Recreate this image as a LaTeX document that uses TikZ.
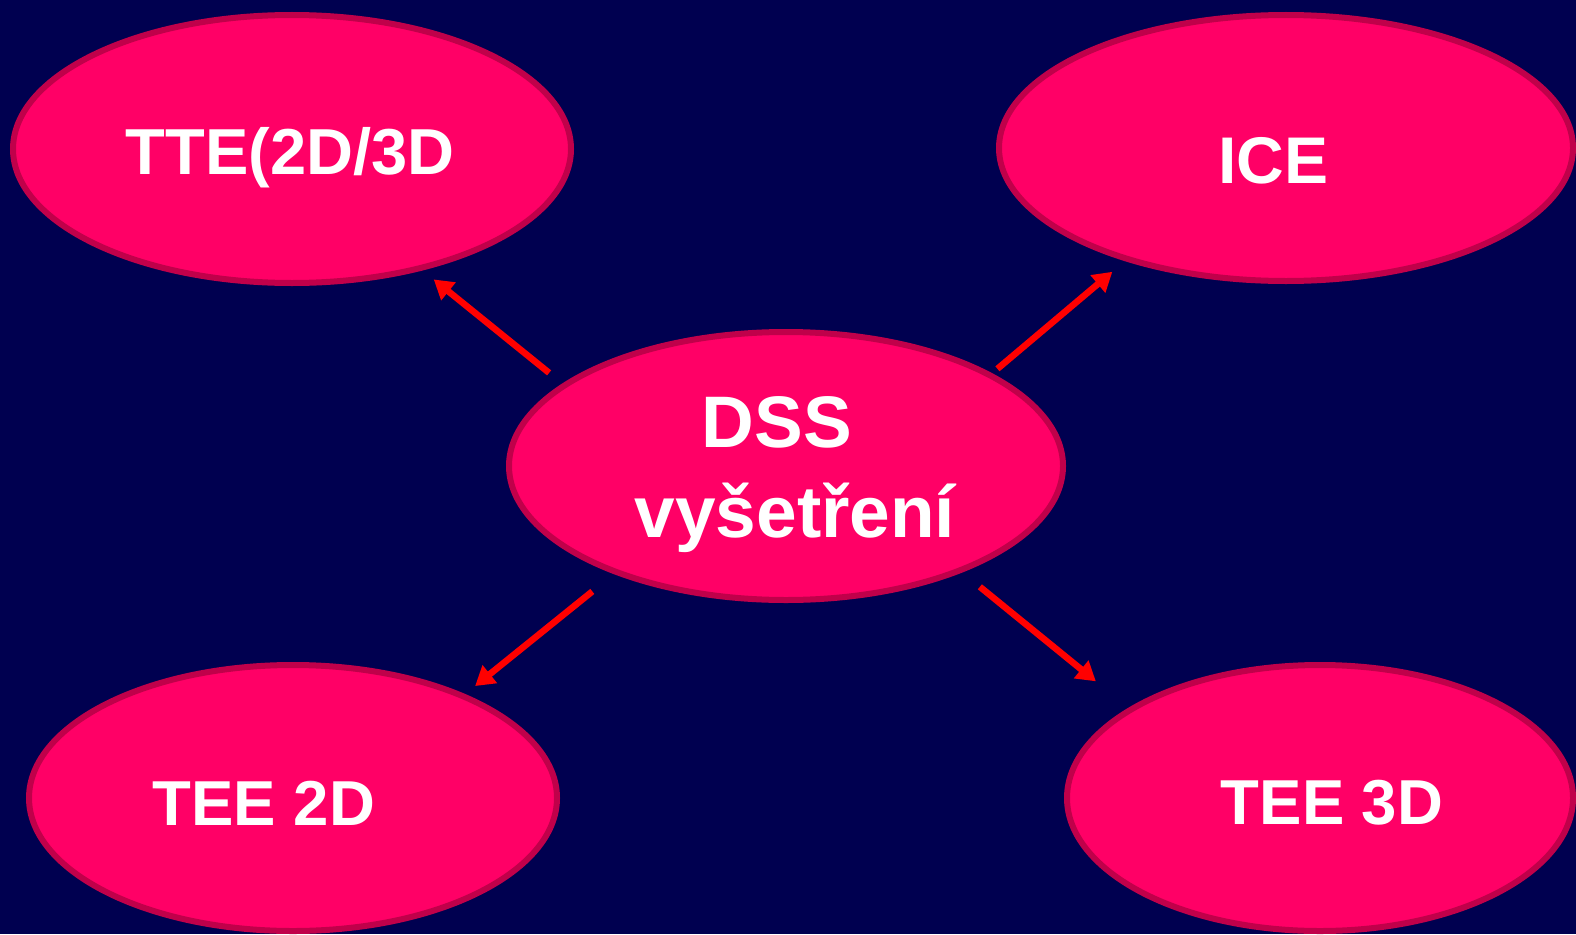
\documentclass[tikz,border=0pt]{standalone}
\usepackage{fontspec}
\setmainfont{Liberation Sans}
\usetikzlibrary{shapes.geometric, arrows.meta}
\definecolor{slideBg}{RGB}{0,0,80}
\definecolor{bubblePink}{RGB}{255,0,102}
\definecolor{bubbleEdge}{RGB}{192,0,74}
\tikzset{
    % Shapes
    bubble/.style={ellipse, draw=bubbleEdge, fill=bubblePink, line width=6pt,
                   inner sep=0pt, outer sep=0pt},
    caption/.style={text=white, anchor=base, inner sep=0pt,
                    font=\bfseries\fontsize{#1}{#1}\selectfont},
    caption/.default=63,
    % Flow
    flow/.style={-{Triangle[length=19pt,width=22pt]}, line width=6.5pt, red}
}
\begin{document}
\begin{tikzpicture}[x=1pt,y=-1pt]

\fill[slideBg] (0,0) rectangle (1576,934);
\useasboundingbox (0,0) rectangle (1576,934);

\node[bubble, minimum width=558pt, minimum height=268pt] (tte) at (292,149) {};
\node[bubble, minimum width=574pt, minimum height=266pt] (ice) at (1286,148) {};
\node[bubble, minimum width=554pt, minimum height=268pt] (dss) at (786,466) {};
\node[bubble, minimum width=528pt, minimum height=266pt] (tee2) at (293,798) {};
\node[bubble, minimum width=506pt, minimum height=266pt] (tee3) at (1320,798) {};

\node[caption=65] (tte-txt) at (290,174) {TTE(2D/3D};
\node[caption=66] (ice-txt) at (1273,183) {ICE};
\node[caption=73] (dss-txt) at (777,447) {DSS};
\node[caption=73] (dss-sub) at (795,537) {vyšetření};
\node[caption=63.5] (tee2-txt) at (264,825) {TEE 2D};
\node[caption=63.5] (tee3-txt) at (1332,824) {TEE 3D};

\draw[flow, shorten <=20pt, shorten >=18pt] (dss.160) -- (tte.317);
\draw[flow, shorten <=10pt, shorten >=20pt] (dss.24) -- (ice.215);
\draw[flow, shorten <=31pt, shorten >=16pt] (dss.212) -- (tee2.31);
\draw[flow, shorten <=26pt, shorten >=45pt] (dss.329) -- (tee3.155);

\end{tikzpicture}
\end{document}
